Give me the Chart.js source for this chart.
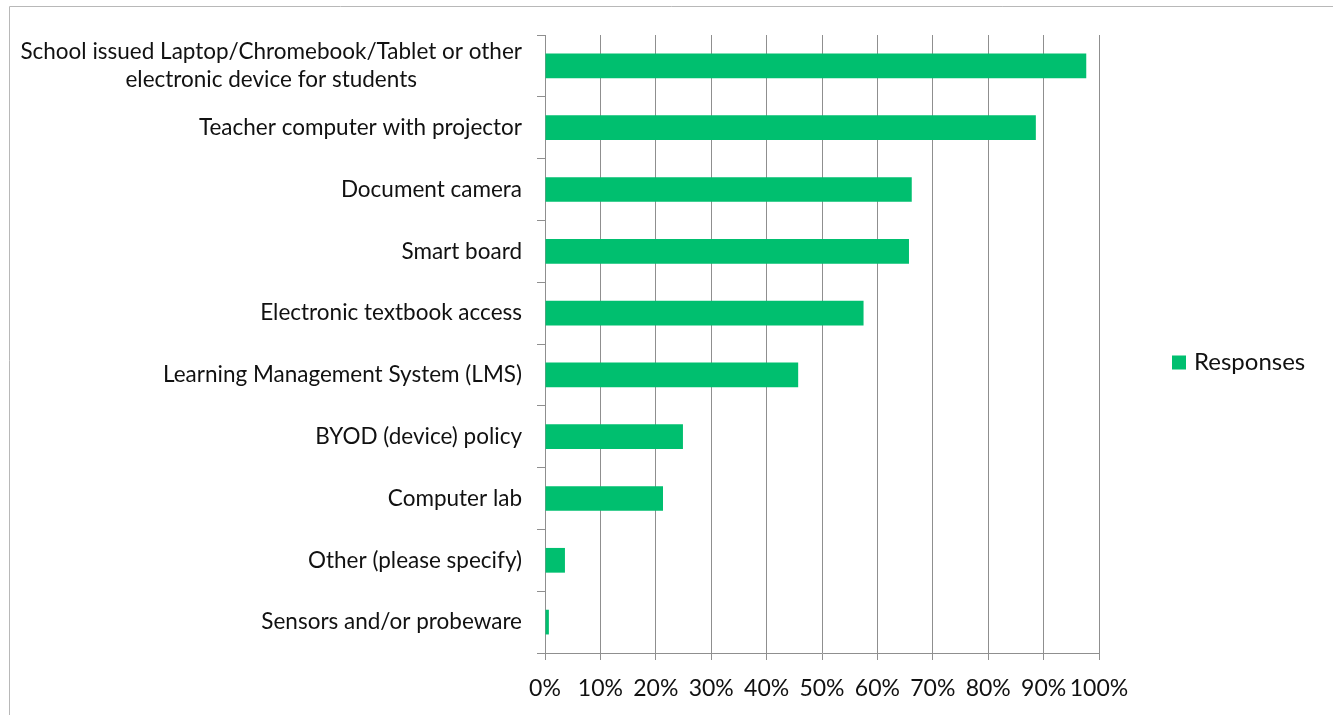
<!DOCTYPE html>
<html>
<head>
<meta charset="utf-8">
<title>Responses</title>
<script src="https://cdn.jsdelivr.net/npm/chart.js@4.4.1/dist/chart.umd.min.js"></script>
<style>
  html, body { margin: 0; padding: 0; background: #ffffff; }
  #wrap { position: relative; width: 1333px; height: 715px; }
</style>
</head>
<body>
<div id="wrap"><canvas id="chart" width="1333" height="715"></canvas></div>
<script>
// Technology available in the classroom, share of responses (%)
const categories = [
  ["School issued Laptop/Chromebook/Tablet or other", "electronic device for students"],
  "Teacher computer with projector",
  "Document camera",
  "Smart board",
  "Electronic textbook access",
  "Learning Management System (LMS)",
  "BYOD (device) policy",
  "Computer lab",
  "Other (please specify)",
  "Sensors and/or probeware"
];
const responses = [97.7, 88.6, 66.2, 65.7, 57.5, 45.7, 24.9, 21.3, 3.6, 0.7];
const seriesName = "Responses";
const xTicks = [0, 10, 20, 30, 40, 50, 60, 70, 80, 90, 100];

const FONT = "Lato, 'Open Sans', sans-serif";
const LABEL_SIZE = 22.5;
const TICK_SIZE = 23;
const LEGEND_SIZE = 24;
const TEXT = "#111111";
const GRID = "#8f8f8f";
const GREEN = "#00bf6f";

// Outer frame of the chart object (top and left edges)
const framePlugin = {
  id: "frame",
  beforeDraw(chart) {
    const ctx = chart.ctx;
    ctx.save();
    ctx.strokeStyle = "#b8b8b8";
    ctx.lineWidth = 1;
    ctx.beginPath();
    ctx.moveTo(9.5, chart.height);
    ctx.lineTo(9.5, 6.5);
    ctx.lineTo(chart.width, 6.5);
    ctx.stroke();
    ctx.restore();
  }
};

// Category labels: multi-line labels are centred on their widest line
const categoryLabelPlugin = {
  id: "categoryLabels",
  afterDraw(chart) {
    const ctx = chart.ctx;
    const y = chart.scales.y;
    const right = y.right - 8 - 15;
    const lineH = 28;
    ctx.save();
    ctx.font = LABEL_SIZE + "px " + FONT;
    ctx.fillStyle = TEXT;
    ctx.textAlign = "center";
    ctx.textBaseline = "middle";
    categories.forEach((lab, i) => {
      const lines = Array.isArray(lab) ? lab : [lab];
      const widest = Math.max(...lines.map(l => ctx.measureText(l).width));
      const cx = right - widest / 2;
      const cy = y.getPixelForValue(i);
      const top = cy - (lines.length - 1) * lineH / 2;
      lines.forEach((l, k) => ctx.fillText(l, cx, top + k * lineH));
    });
    ctx.restore();
  }
};

// Legend on the right, vertically centred on the chart
const legendPlugin = {
  id: "sideLegend",
  afterDraw(chart) {
    const ctx = chart.ctx;
    const ds = chart.data.datasets[0];
    const x = chart.chartArea.right + 73;
    const cy = chart.height / 2 + 5;
    ctx.save();
    ctx.fillStyle = ds.backgroundColor;
    ctx.fillRect(x, cy - 7, 14, 14);
    ctx.font = LEGEND_SIZE + "px " + FONT;
    ctx.fillStyle = TEXT;
    ctx.textAlign = "left";
    ctx.textBaseline = "middle";
    ctx.fillText(ds.label, x + 22, cy);
    ctx.restore();
  }
};

new Chart(document.getElementById("chart"), {
  type: "bar",
  data: {
    labels: categories,
    datasets: [{
      label: seriesName,
      data: responses,
      backgroundColor: GREEN,
      borderWidth: 0,
      categoryPercentage: 1.0,
      barPercentage: 0.4
    }]
  },
  options: {
    indexAxis: "y",
    responsive: false,
    animation: false,
    devicePixelRatio: 1,
    layout: { padding: { left: 10, right: 234, top: 35, bottom: 0 } },
    plugins: {
      legend: { display: false },
      tooltip: { enabled: false }
    },
    scales: {
      x: {
        type: "linear",
        min: 0,
        max: 100,
        afterBuildTicks(scale) { scale.ticks = xTicks.map(v => ({ value: v })); },
        afterFit(scale) { scale.height = 62; },
        grid: { color: GRID, lineWidth: 1, tickLength: 7, drawTicks: true },
        border: { color: GRID, width: 1 },
        ticks: {
          color: TEXT,
          font: { family: FONT, size: TICK_SIZE },
          padding: 15,
          maxRotation: 0,
          autoSkip: false,
          callback: v => v + "%"
        }
      },
      y: {
        type: "category",
        offset: true,
        afterFit(scale) { scale.width = 535; },
        grid: { color: GRID, lineWidth: 1, drawOnChartArea: false, drawTicks: true, tickLength: 8, offset: true },
        border: { color: GRID, width: 1 },
        ticks: { display: false }
      }
    }
  },
  plugins: [framePlugin, categoryLabelPlugin, legendPlugin]
});
</script>
</body>
</html>
